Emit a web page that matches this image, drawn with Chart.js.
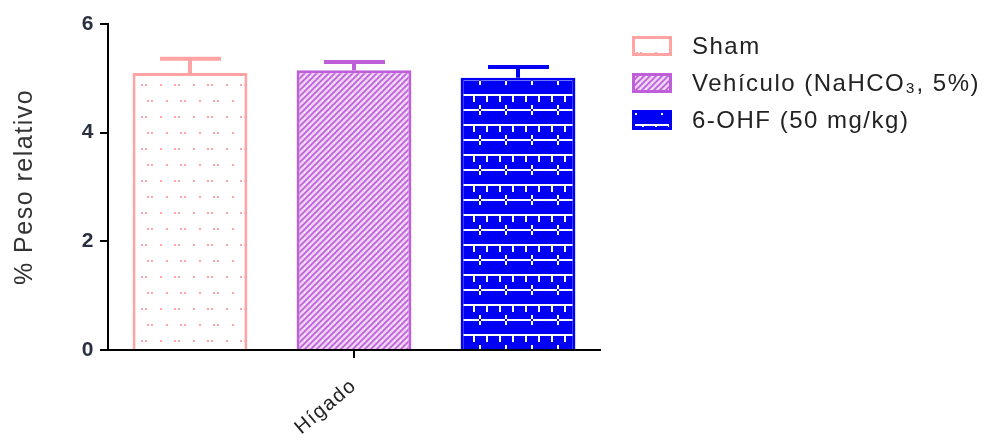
<!DOCTYPE html>
<html>
<head>
<meta charset="utf-8">
<script src="https://cdn.jsdelivr.net/npm/chart.js@4"></script>
<style>
  html, body { margin: 0; padding: 0; background: #fff; }
  #wrap { width: 992px; height: 445px; }
</style>
</head>
<body>
<div id="wrap"><canvas id="grafico"></canvas></div>
<script>
// dados
const categorias = ['Hígado'];
const grupos = ['Sham', 'Vehículo (NaHCO₃, 5%)', '6-OHF (50 mg/kg)'];
const medias = [5.10, 5.15, 5.01];
const erros = [0.26, 0.15, 0.20];
const ticksY = [0, 2, 4, 6];

const coresBorda = ['#FFA3A3', '#BE5FD9', '#0000F5'];
const fonte = '"Liberation Sans", Arial, sans-serif';

// padrões das barras
function padraoSham() {
  const c = document.createElement('canvas');
  c.width = 33; c.height = 32;
  const x = c.getContext('2d');
  x.fillStyle = '#fff';
  x.fillRect(0, 0, 33, 32);
  x.fillStyle = '#FFA3A3';
  [[1, 4], [15, 4], [19, 4],
   [9, 20], [13, 20], [28, 20]].forEach(p => x.fillRect(p[0], p[1], 2, 2));
  return x.createPattern(c, 'repeat');
}

function padraoVeiculo() {
  const c = document.createElement('canvas');
  c.width = 6; c.height = 6;
  const x = c.getContext('2d');
  x.fillStyle = '#EDD0F5';
  x.fillRect(0, 0, 6, 6);
  x.strokeStyle = '#BE5FD9';
  x.lineWidth = 1.6;
  x.beginPath();
  x.moveTo(-1, 7); x.lineTo(7, -1);
  x.moveTo(-1, 1); x.lineTo(1, -1);
  x.moveTo(5, 7); x.lineTo(7, 5);
  x.stroke();
  x.fillStyle = '#fff';
  x.fillRect(4, 4, 1, 1);
  return x.createPattern(c, 'repeat');
}

function padraoOHF() {
  const c = document.createElement('canvas');
  c.width = 26; c.height = 30;
  const x = c.getContext('2d');
  x.fillStyle = '#0000F5';
  x.fillRect(0, 0, 26, 30);
  x.fillStyle = '#fff';
  x.fillRect(0, 4, 26, 2);
  x.fillRect(5, 6, 2, 6);
  x.fillRect(18, 6, 2, 6);
  x.fillRect(0, 19, 11, 2);
  x.fillRect(13, 19, 13, 2);
  x.fillRect(11, 15, 2, 4);
  x.fillRect(11, 21, 2, 4);
  return x.createPattern(c, 'repeat');
}

const padroes = [padraoSham(), padraoVeiculo(), padraoOHF()];

// espaçamento entre letras (o canvas perde isso quando é redimensionado)
const espacamento = {
  id: 'espacamento',
  beforeLayout(chart) { chart.ctx.letterSpacing = '1.5px'; },
  beforeDraw(chart) { chart.ctx.letterSpacing = '1.5px'; }
};

// barras de erro (só para cima)
const barrasErro = {
  id: 'barrasErro',
  afterDatasetsDraw(chart) {
    const ctx = chart.ctx;
    const y = chart.scales.y;
    ctx.save();
    chart.data.datasets.forEach((ds, i) => {
      const meta = chart.getDatasetMeta(i);
      meta.data.forEach((bar, j) => {
        const topo = y.getPixelForValue(ds.data[j] + erros[i]);
        ctx.strokeStyle = coresBorda[i];
        ctx.lineWidth = 4;
        ctx.beginPath();
        ctx.moveTo(bar.x, bar.y);
        ctx.lineTo(bar.x, topo);
        ctx.moveTo(bar.x - 30, topo);
        ctx.lineTo(bar.x + 31, topo);
        ctx.stroke();
      });
    });
    ctx.restore();
  }
};

// legenda desenhada à mão
const legenda = {
  id: 'legenda',
  afterDraw(chart) {
    const ctx = chart.ctx;
    ctx.save();
    grupos.forEach((g, i) => {
      const cy = 46 + i * 37;
      ctx.fillStyle = padroes[i];
      ctx.fillRect(632, cy - 10, 40, 20);
      ctx.strokeStyle = coresBorda[i];
      ctx.lineWidth = 3;
      ctx.strokeRect(633.5, cy - 8.5, 37, 17);
      ctx.fillStyle = '#222';
      ctx.font = '24px ' + fonte;
      ctx.textBaseline = 'middle';
      ctx.fillText(g, 692, cy + 1);
    });
    ctx.restore();
  }
};

new Chart(document.getElementById('grafico'), {
  type: 'bar',
  data: {
    labels: categorias,
    datasets: grupos.map((g, i) => ({
      label: g,
      data: [medias[i]],
      backgroundColor: padroes[i],
      borderColor: coresBorda[i],
      borderWidth: 3,
      borderSkipped: 'start'
    }))
  },
  options: {
    responsive: true,
    maintainAspectRatio: false,
    animation: false,
    layout: { padding: { top: 24, right: 392, bottom: 0, left: 0 } },
    datasets: { bar: { categoryPercentage: 1.0, barPercentage: 0.7 } },
    plugins: {
      legend: { display: false },
      tooltip: { enabled: false }
    },
    scales: {
      x: {
        grid: { offset: false, drawOnChartArea: false, tickLength: 8, color: '#000', lineWidth: 2 },
        border: { color: '#000', width: 2 },
        ticks: {
          minRotation: 40, maxRotation: 40,
          color: '#222',
          font: { family: fonte, size: 20 },
          padding: 16
        },
        afterFit(s) { s.height = 95; }
      },
      y: {
        min: 0, max: 6,
        afterBuildTicks(s) { s.ticks = ticksY.map(v => ({ value: v })); },
        grid: { drawOnChartArea: false, tickLength: 8, color: '#000', lineWidth: 2 },
        border: { color: '#000', width: 2 },
        ticks: {
          color: '#2a3040',
          font: { family: fonte, size: 21, weight: 'bold' },
          padding: 5
        },
        title: {
          display: true,
          text: '% Peso relativo',
          color: '#333',
          font: { family: fonte, size: 25 },
          padding: { top: 10, bottom: 0 }
        },
        afterFit(s) { s.width = 108; }
      }
    }
  },
  plugins: [espacamento, barrasErro, legenda]
});
</script>
</body>
</html>
